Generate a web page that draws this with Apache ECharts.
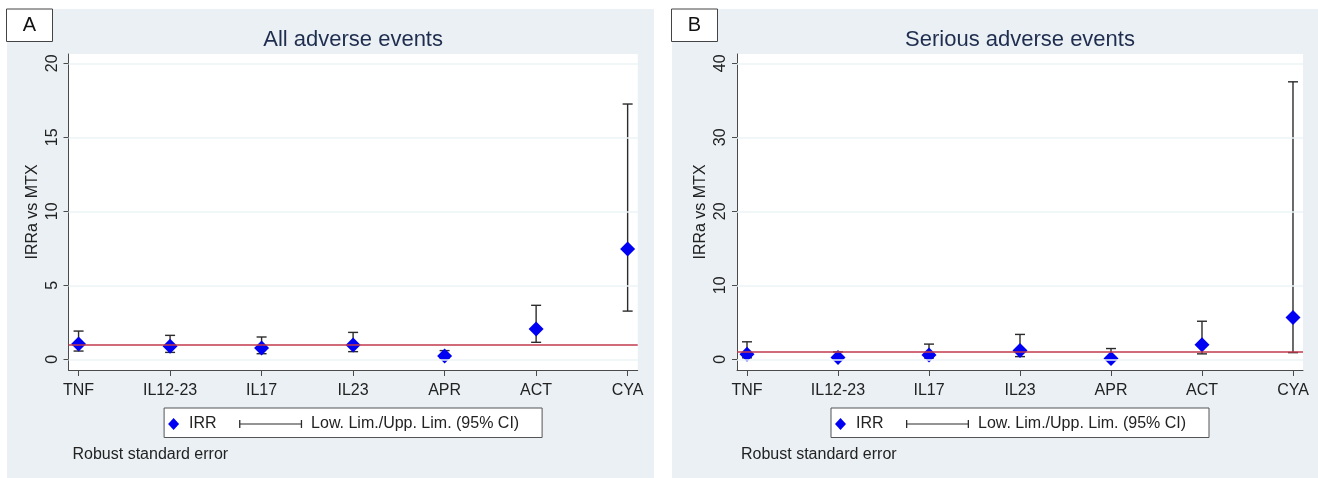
<!DOCTYPE html>
<html>
<head>
<meta charset="utf-8">
<style>
html,body{margin:0;padding:0;background:#fff}
#chart{width:1318px;height:478px}
</style>
<script src="https://cdn.jsdelivr.net/npm/echarts@6/dist/echarts.min.js"></script>
</head>
<body>
<div id="chart"></div>
<script>
'use strict';
// treatment groups on the x axis
var categories = ['TNF', 'IL12-23', 'IL17', 'IL23', 'APR', 'ACT', 'CYA'];

// A: all adverse events
var irrA  = [1.04, 0.88, 0.77, 0.97, 0.23, 2.05, 7.46];
var lowA  = [0.56, 0.47, 0.38, 0.52, 0.08, 1.15, 3.26];
var highA = [1.91, 1.62, 1.51, 1.82, 0.59, 3.65, 17.25];

// B: serious adverse events
var irrB  = [0.68, 0.23, 0.59, 1.18, 0.09, 1.95, 5.63];
var lowB  = [0.20, 0.05, 0.17, 0.36, 0.01, 0.73, 0.90];
var highB = [2.36, 1.00, 2.05, 3.36, 1.45, 5.14, 37.5];

var ticksA = [0, 5, 10, 15, 20];
var ticksB = [0, 10, 20, 30, 40];
var refValue = 1;
var ciName = 'Low. Lim./Upp. Lim. (95% CI)';

var FONT = '"Liberation Sans", Arial, Helvetica, sans-serif';
var INK = '#222';
var AXIS = '#4a4a4a';
var BLUE = '#0000f2';
var catIdx = categories.map(function (c, i) { return i; });

var panels = [
  { key: 'A', title: 'All adverse events', irr: irrA, low: lowA, high: highA, ticks: ticksA,
    yMin: -0.72, yMax: 20.63, bgLeft: 7, bgRight: 654, plotLeft: 68.5, plotRight: 637.7 },
  { key: 'B', title: 'Serious adverse events', irr: irrB, low: lowB, high: highB, ticks: ticksB,
    yMin: -1.45, yMax: 41.26, bgLeft: 672, bgRight: 1318, plotLeft: 737, plotRight: 1303 }
];
var PLOT_TOP = 54, PLOT_BOTTOM = 370;

function errorBar(params, api) {
  var x = api.value(0);
  var p1 = api.coord([x, api.value(1)]);
  var p2 = api.coord([x, api.value(2)]);
  var cap = 5;
  var st = { stroke: '#2b2b2b', lineWidth: 1.4 };
  return {
    type: 'group',
    children: [
      { type: 'line', shape: { x1: p1[0], y1: p1[1], x2: p2[0], y2: p2[1] }, style: st },
      { type: 'line', shape: { x1: p1[0] - cap, y1: p1[1], x2: p1[0] + cap, y2: p1[1] }, style: st },
      { type: 'line', shape: { x1: p2[0] - cap, y1: p2[1], x2: p2[0] + cap, y2: p2[1] }, style: st }
    ]
  };
}

var grids = [], xAxes = [], yAxes = [], series = [], titles = [], legends = [], graphics = [];

panels.forEach(function (p, i) {
  var mid = (p.plotLeft + p.plotRight) / 2;
  var boxLeft = mid - 189;

  grids.push({
    left: p.plotLeft, top: PLOT_TOP, width: p.plotRight - p.plotLeft, height: PLOT_BOTTOM - PLOT_TOP,
    show: true, backgroundColor: '#fff', borderWidth: 0
  });
  xAxes.push({
    gridIndex: i, type: 'value', min: -0.11, max: 6.11,
    axisLine: { show: true, onZero: false, lineStyle: { color: AXIS, width: 1 } },
    axisTick: { show: true, length: 6, customValues: catIdx, lineStyle: { color: AXIS } },
    axisLabel: {
      customValues: catIdx, margin: 13, fontSize: 16, color: INK, fontFamily: FONT,
      formatter: function (v) { return categories[Math.round(v)]; }
    },
    splitLine: { show: false }
  });
  yAxes.push({
    gridIndex: i, type: 'value', min: p.yMin, max: p.yMax,
    axisLine: { show: true, onZero: false, lineStyle: { color: AXIS, width: 1 } },
    axisTick: { show: true, length: 5, customValues: p.ticks, lineStyle: { color: AXIS } },
    axisLabel: { customValues: p.ticks, rotate: 90, margin: 8, fontSize: 16, color: INK, fontFamily: FONT },
    splitLine: { show: false },
    name: 'IRRa vs MTX', nameLocation: 'middle', nameGap: 28,
    nameTextStyle: { fontSize: 16, color: INK, fontFamily: FONT }
  });

  var lines = p.ticks.map(function (t) {
    return { yAxis: t, lineStyle: { color: '#edf3f6', width: 1.5, type: 'solid' } };
  });
  lines.push({ yAxis: refValue, lineStyle: { color: '#c33a4c', width: 1.6, type: 'solid' } });

  series.push({
    name: ciName, type: 'custom', xAxisIndex: i, yAxisIndex: i, z: 2,
    itemStyle: { color: '#2b2b2b' },
    renderItem: errorBar,
    data: p.low.map(function (v, k) { return [k, v, p.high[k]]; }),
    markLine: { silent: true, symbol: 'none', label: { show: false }, data: lines }
  });
  series.push({
    name: 'IRR', type: 'scatter', xAxisIndex: i, yAxisIndex: i, z: 3,
    symbol: 'diamond', symbolSize: 15,
    itemStyle: { color: BLUE, opacity: 1 },
    data: p.irr.map(function (v, k) { return [k, v]; })
  });

  titles.push({
    text: p.title, left: mid, top: 29, textAlign: 'center', padding: 0,
    textStyle: { fontSize: 22, fontWeight: 'normal', color: '#1f2d4e', fontFamily: FONT }
  });
  titles.push({
    text: 'Robust standard error', left: p.plotLeft + 4, top: 447, padding: 0,
    textStyle: { fontSize: 16, fontWeight: 'normal', color: INK, fontFamily: FONT }
  });

  legends.push({
    data: [{ name: 'IRR', icon: 'diamond', itemStyle: { color: BLUE, opacity: 1 } }],
    left: boxLeft + 4, top: 416, padding: 0, itemWidth: 11, itemHeight: 12, selectedMode: false,
    textStyle: { fontSize: 16, color: INK, fontFamily: FONT, padding: [0, 0, 0, 5] }
  });
  legends.push({
    data: [{ name: ciName, icon: 'path://M0,0h1.3v8h-1.3z M0,3.4h63v1.2h-63z M61.7,0h1.3v8h-1.3z',
             itemStyle: { color: '#2b2b2b' } }],
    left: boxLeft + 75, top: 416, padding: 0, itemWidth: 63, itemHeight: 8, selectedMode: false,
    textStyle: { fontSize: 16, color: INK, fontFamily: FONT, padding: [0, 0, 0, 4] }
  });

  graphics.push({
    type: 'rect', z: -100, silent: true,
    shape: { x: p.bgLeft, y: 9, width: p.bgRight - p.bgLeft, height: 478 - 9 },
    style: { fill: '#eaf0f4' }
  });
  graphics.push({
    type: 'rect', z: -50, silent: true,
    shape: { x: boxLeft, y: 408, width: 378, height: 29.5 },
    style: { fill: '#fff', stroke: '#555', lineWidth: 1 }
  });
  graphics.push({
    type: 'rect', z: 50, silent: true,
    shape: { x: p.bgLeft - 0.5, y: 9, width: 46, height: 32.5 },
    style: { fill: '#fff', stroke: '#444', lineWidth: 1 }
  });
  graphics.push({
    type: 'text', z: 51, silent: true, x: p.bgLeft + 22.5, y: 25.5,
    style: { text: p.key, fontSize: 20, fontFamily: FONT, fill: '#111', align: 'center', verticalAlign: 'middle' }
  });
});

var chart = echarts.init(document.getElementById('chart'), null, { renderer: 'canvas' });
chart.setOption({
  animation: false,
  backgroundColor: '#fff',
  title: titles,
  legend: legends,
  grid: grids,
  xAxis: xAxes,
  yAxis: yAxes,
  graphic: graphics,
  series: series
});
</script>
</body>
</html>
